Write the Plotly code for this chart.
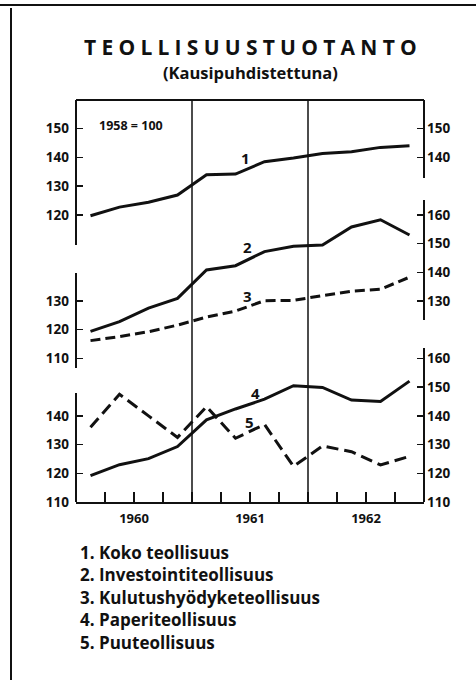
import plotly.graph_objects as go

# ---------------- data ----------------
years = [1960, 1961, 1962]
quarters = [1, 2, 3, 4]
year_labels = ["1960", "1961", "1962"]

s1_koko = [119.7, 122.7, 124.4, 126.9, 134.0, 134.2, 138.5, 139.8, 141.4, 142.0, 143.5, 144.1]
s2_invest = [119.4, 122.8, 127.5, 130.9, 140.8, 142.3, 147.2, 149.1, 149.5, 155.8, 158.3, 153.0]
s3_kulutus = [116.2, 117.6, 119.3, 121.6, 124.4, 126.5, 130.1, 130.2, 131.9, 133.4, 134.1, 138.3]
s4_paperi = [119.2, 123.0, 125.1, 129.3, 138.6, 142.4, 145.8, 150.5, 149.9, 145.5, 145.0, 152.1]
s5_puu = [136.0, 147.5, 140.0, 132.5, 143.2, 132.2, 137.0, 122.4, 129.5, 127.5, 122.9, 125.9]

left_ticks_1 = [120, 130, 140, 150]
left_ticks_2 = [110, 120, 130]
left_ticks_3 = [110, 120, 130, 140]
right_ticks_1 = [140, 150]
right_ticks_2 = [130, 140, 150, 160]
right_ticks_3 = [110, 120, 130, 140, 150, 160]

legend_items = ["1. Koko teollisuus", "2. Investointiteollisuus",
                "3. Kulutushyödyketeollisuus", "4. Paperiteollisuus",
                "5. Puuteollisuus"]

x_q = [y + (q - 0.5) / 4 for y in years for q in quarters]

# ---------------- layout geometry ----------------
W, H = 476, 680
L, R, T, B = 76, 424, 100, 502


def px2x(px):
    return (px - L) / (R - L)


def px2y(py):
    return (B - py) / (B - T)


FONT = "Open Sans"
BLACK = "#111111"

fig = go.Figure()

solid = dict(color=BLACK, width=3)
dashed3 = dict(color=BLACK, width=3, dash="10px,5px")
dashed5 = dict(color=BLACK, width=3, dash="12px,6px")

fig.add_trace(go.Scatter(x=x_q, y=s1_koko, mode="lines", line=solid, yaxis="y"))
fig.add_trace(go.Scatter(x=x_q, y=s2_invest, mode="lines", line=solid, yaxis="y2"))
fig.add_trace(go.Scatter(x=x_q, y=s3_kulutus, mode="lines", line=dashed3, yaxis="y2"))
fig.add_trace(go.Scatter(x=x_q, y=s4_paperi, mode="lines", line=solid, yaxis="y3"))
fig.add_trace(go.Scatter(x=x_q, y=s5_puu, mode="lines", line=dashed5, yaxis="y3"))
# invisible traces so that right-hand axes are drawn
for ya in ["y4", "y5", "y6"]:
    fig.add_trace(go.Scatter(x=[None], y=[None], mode="lines", yaxis=ya, hoverinfo="skip"))


def yax(rng, ticks, side, overlay=True):
    d = dict(range=rng, tickvals=ticks, ticktext=[str(t) for t in ticks],
             ticks="inside", ticklen=7, tickwidth=1.5, tickcolor=BLACK,
             showgrid=False, zeroline=False, showline=False, side=side,
             automargin=False,
             tickfont=dict(family=FONT, size=13.5, color=BLACK, weight="bold"),
             ticklabelstandoff=6 if side == "left" else 2,
             fixedrange=True)
    if overlay:
        d.update(overlaying="y", anchor="x")
    return d


fig.update_layout(
    width=W, height=H,
    margin=dict(l=L, r=W - R, t=T, b=H - B, pad=0),
    paper_bgcolor="white", plot_bgcolor="white",
    showlegend=False,
    xaxis=dict(range=[1960, 1963],
               tickvals=[y + 0.5 for y in years], ticktext=year_labels,
               ticks="inside", ticklen=10, tickwidth=1.5, tickcolor=BLACK,
               minor=dict(ticks="inside", ticklen=10, tickwidth=1.5, tickcolor=BLACK,
                          dtick=0.25, tick0=1960, showgrid=False),
               showgrid=False, zeroline=False, automargin=False,
               showline=True, linewidth=2, linecolor=BLACK,
               tickfont=dict(family=FONT, size=13, color=BLACK, weight="bold"),
               ticklabelstandoff=3, fixedrange=True),
    yaxis=yax([20, 160], left_ticks_1, "left", overlay=False),
    yaxis2=yax([60, 200], left_ticks_2, "left"),
    yaxis3=yax([110, 250], left_ticks_3, "left"),
    yaxis4=yax([20, 160], right_ticks_1, "right"),
    yaxis5=yax([60, 200], right_ticks_2, "right"),
    yaxis6=yax([110, 250], right_ticks_3, "right"),
)

shapes = []
lw = dict(color=BLACK, width=2)
# top border of plot
shapes.append(dict(type="line", xref="paper", yref="paper", x0=0, x1=1, y0=1, y1=1, line=lw))
# left broken border
for a, b in [(100, 245), (273, 368), (393, 502)]:
    shapes.append(dict(type="line", xref="paper", yref="paper", x0=0, x1=0,
                       y0=px2y(a), y1=px2y(b), line=lw))
# right broken border
for a, b in [(100, 178), (200, 320), (348, 502)]:
    shapes.append(dict(type="line", xref="paper", yref="paper", x0=1, x1=1,
                       y0=px2y(a), y1=px2y(b), line=lw))
# year separators
for yv in [1961, 1962]:
    shapes.append(dict(type="line", xref="x", yref="paper", x0=yv, x1=yv, y0=0, y1=1,
                       line=dict(color=BLACK, width=1.5)))
# outer frame of the page
shapes.append(dict(type="line", xref="paper", yref="paper", x0=px2x(0), x1=px2x(W),
                   y0=px2y(5), y1=px2y(5), line=dict(color=BLACK, width=2)))
shapes.append(dict(type="line", xref="paper", yref="paper", x0=px2x(11), x1=px2x(11),
                   y0=px2y(8), y1=px2y(H), line=dict(color=BLACK, width=2)))
fig.update_layout(shapes=shapes)

ann = []


def text(px, py, s, size, xanchor="center"):
    ann.append(dict(xref="paper", yref="paper", x=px2x(px), y=px2y(py), text=s,
                    showarrow=False, xanchor=xanchor, yanchor="middle",
                    font=dict(family=FONT, size=size, color=BLACK, weight="bold")))


title = "\u2005".join("TEOLLISUUSTUOTANTO")
text(250, 47, title, 21)
text(250, 73, "(Kausipuhdistettuna)", 16.5)
text(97, 125, "1958 = 100", 12.5, xanchor="left")
text(245, 158, "1", 15)
text(247, 247, "2", 15)
text(247, 296, "3", 15)
text(255, 393, "4", 15)
text(249, 422, "5", 15)
for i, s in enumerate(legend_items):
    text(78, 552 + i * 22.5, s, 17, xanchor="left")
fig.update_layout(annotations=ann)

fig.write_html("out.html", config={"displayModeBar": False, "staticPlot": True},
               post_script="document.body.style.margin='0px';")
